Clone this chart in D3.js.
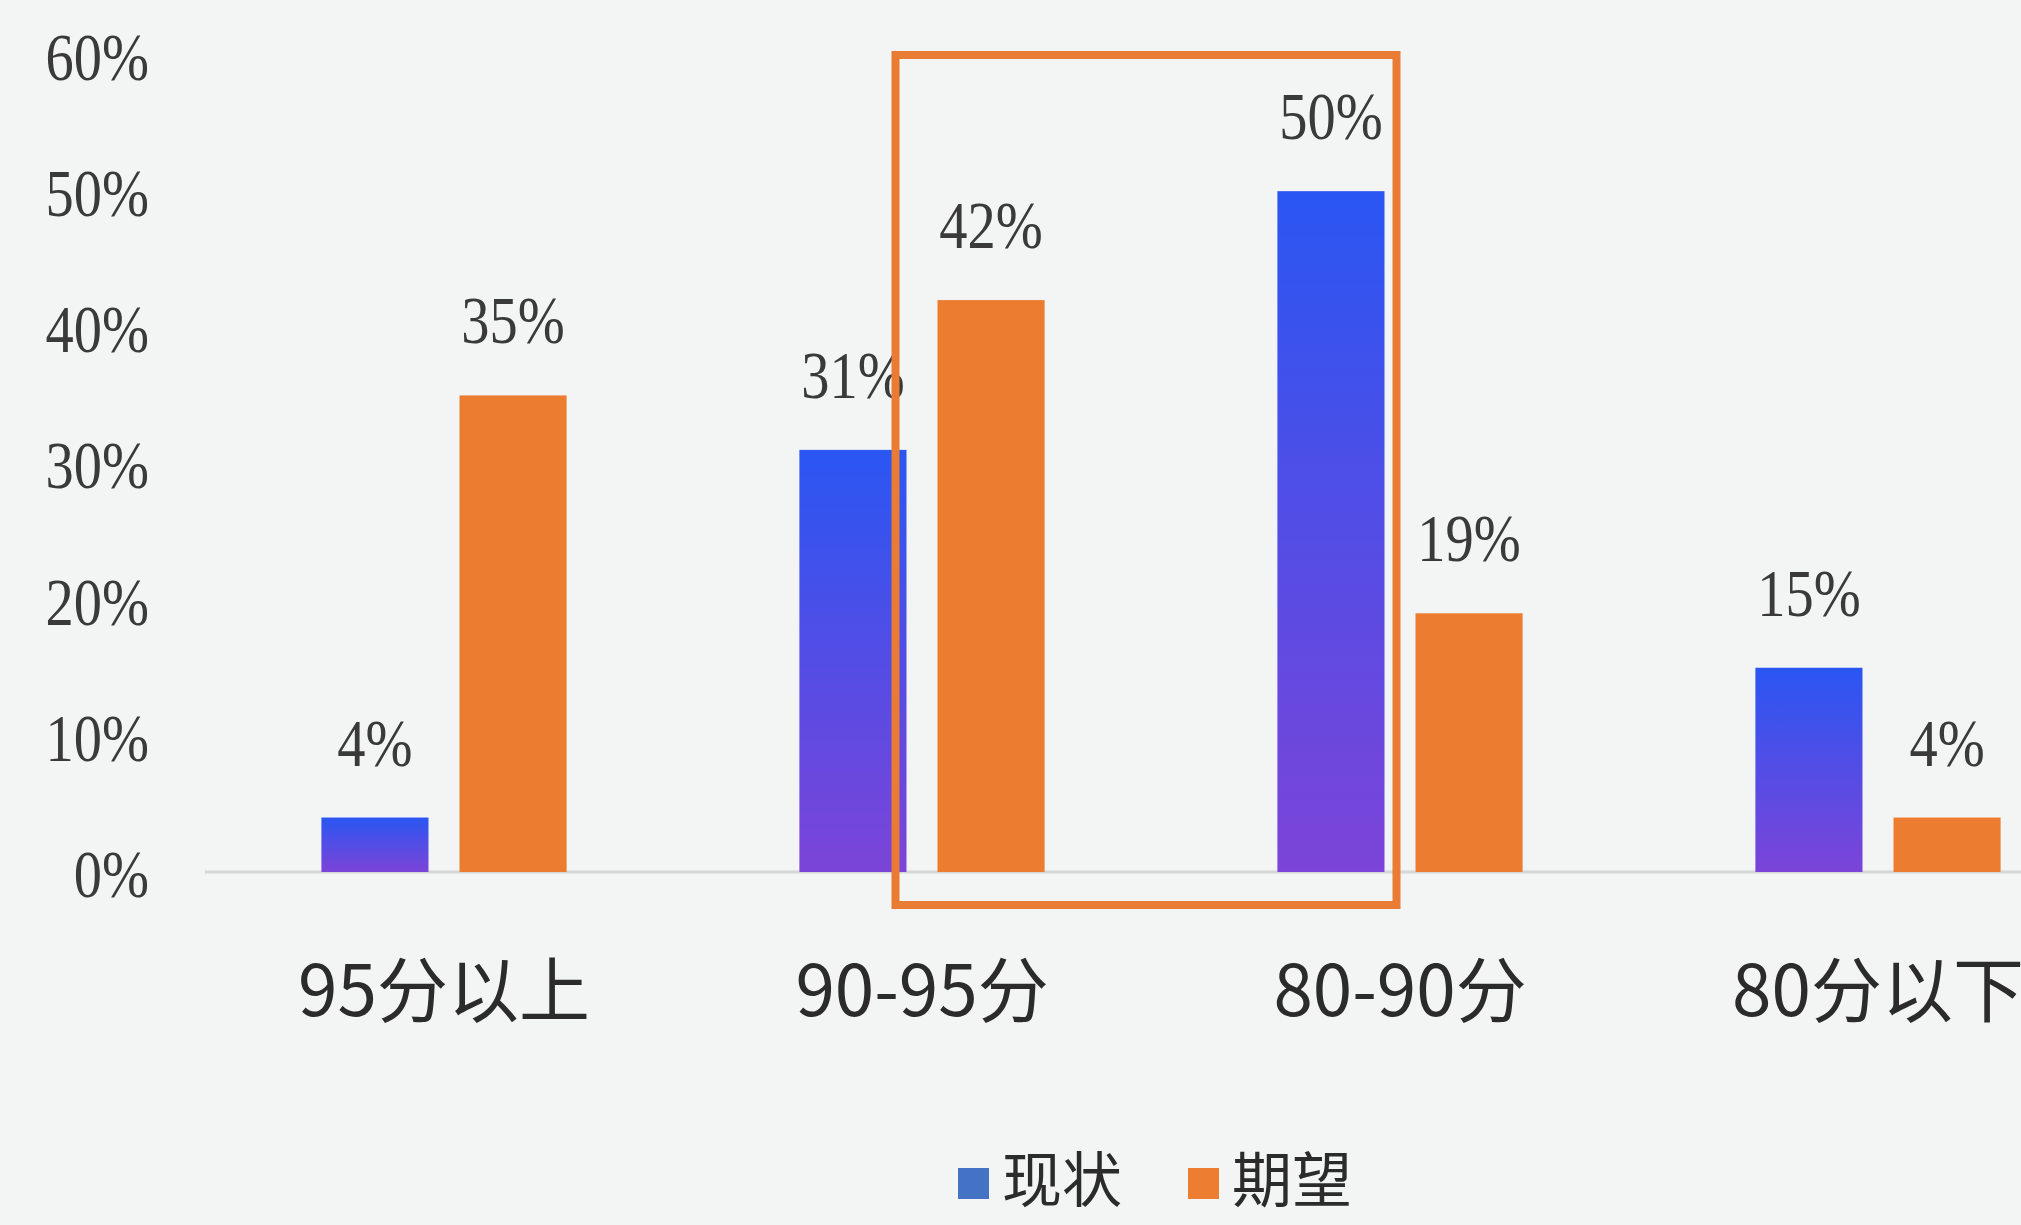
<!DOCTYPE html>
<html>
<head>
<meta charset="utf-8">
<script src="https://cdn.jsdelivr.net/npm/d3@7/dist/d3.min.js"></script>
<style>
body{margin:0;background:#f3f4f4;overflow:hidden}
</style>
</head>
<body>
<div id="chart"></div>
<script>
// data
const categories = ["95分以上", "90-95分", "80-90分", "80分以下"];
const seriesNames = ["现状", "期望"];
const current = [4, 31, 50, 15];
const expected = [35, 42, 19, 4];
const yTicks = [0, 10, 20, 30, 40, 50, 60];
const boxed = ["90-95分", "80-90分"];

function renderChart(){
	let total_width = 2021;
	let total_height = 1225;
	let serif = "'Liberation Serif','DejaVu Serif',serif";
	let sans = "'Noto Sans CJK SC','Noto Sans',sans-serif";
	let squeeze = 0.83;

	let rows = categories.map((c, i) => ({cat: c, values: [
		{key: seriesNames[0], v: current[i]},
		{key: seriesNames[1], v: expected[i]}
	]}));

	let svg = d3.select("#chart").append("svg")
		.attr("width", total_width)
		.attr("height", total_height);

	svg.append("rect")
		.attr("width", total_width)
		.attr("height", total_height)
		.attr("fill", "#f3f4f4");

	let defs = svg.append("defs");
	let grad = defs.append("linearGradient")
		.attr("id", "blueGrad")
		.attr("x1", 0).attr("y1", 0).attr("x2", 0).attr("y2", 1);
	grad.append("stop").attr("offset", "0%").attr("stop-color", "#2a56f2");
	grad.append("stop").attr("offset", "100%").attr("stop-color", "#7c44d8");

	// the plot runs past the right edge, the last group is cut off
	let x0 = d3.scaleBand()
		.domain(categories)
		.range([205, 2117])
		.paddingInner(0.487)
		.paddingOuter(0.2435);
	let x1 = d3.scaleBand()
		.domain(seriesNames)
		.range([0, x0.bandwidth()])
		.paddingInner(0.2246);
	let y = d3.scaleLinear()
		.domain([0, 60])
		.range([872, 55]);

	let fills = {"现状": "url(#blueGrad)", "期望": "#ec7c30"};

	// y axis labels
	let yAxis = svg.append("g")
		.attr("transform", "translate(149,0)")
		.call(d3.axisLeft(y).tickValues(yTicks).tickSize(0).tickPadding(0).tickFormat(d => d + "%"));
	yAxis.select(".domain").remove();
	yAxis.selectAll("text")
		.attr("font-family", serif)
		.attr("font-size", 68)
		.attr("fill", "#3a3a3a")
		.attr("x", 0)
		.attr("dy", "0.36em")
		.attr("transform", "scale(" + squeeze + ",1)");

	// zero line
	svg.append("line")
		.attr("x1", x0.range()[0])
		.attr("x2", x0.range()[1])
		.attr("y1", y(0))
		.attr("y2", y(0))
		.attr("stroke", "#d6d6d6")
		.attr("stroke-width", 3);

	// bars
	let groups = svg.append("g").selectAll("g").data(rows).enter().append("g")
		.attr("transform", d => "translate(" + x0(d.cat) + ",0)");
	groups.selectAll("rect").data(d => d.values).enter().append("rect")
		.attr("x", d => x1(d.key))
		.attr("width", x1.bandwidth())
		.attr("y", d => y(d.v))
		.attr("height", d => y(0) - y(d.v))
		.attr("fill", d => fills[d.key]);

	// value labels
	groups.selectAll("g.lab").data(d => d.values).enter().append("g")
		.attr("class", "lab")
		.attr("transform", d => "translate(" + (x1(d.key) + x1.bandwidth() / 2) + "," + (y(d.v) - 52) + ") scale(" + squeeze + ",1)")
		.append("text")
		.attr("text-anchor", "middle")
		.attr("font-family", serif)
		.attr("font-size", 68)
		.attr("fill", "#3a3a3a")
		.text(d => d.v + "%");

	// category axis
	let xAxis = svg.append("g")
		.attr("transform", "translate(0," + y(0) + ")")
		.call(d3.axisBottom(x0).tickSize(0));
	xAxis.select(".domain").remove();
	xAxis.selectAll("text")
		.attr("font-family", sans)
		.attr("font-size", 71)
		.attr("fill", "#2b2b2b")
		.attr("y", 118)
		.attr("dy", "0.36em");

	// highlight box round the two middle groups
	let boxLeft = x0(boxed[0]) + x1(seriesNames[1]) - 42;
	let boxRight = x0(boxed[1]) + x1(seriesNames[0]) + x1.bandwidth() + 12;
	svg.append("rect")
		.attr("x", boxLeft)
		.attr("y", y(60))
		.attr("width", boxRight - boxLeft)
		.attr("height", y(0) - y(60) + 33)
		.attr("fill", "none")
		.attr("stroke", "#e97b35")
		.attr("stroke-width", 8);

	// legend
	let legendColors = ["#4472c4", "#ed7d31"];
	let legend = svg.append("g").attr("transform", "translate(958,1180)");
	let items = legend.selectAll("g").data(seriesNames).enter().append("g")
		.attr("transform", (d, i) => "translate(" + (i * 230) + ",0)");
	items.append("rect")
		.attr("x", 0)
		.attr("y", -12)
		.attr("width", 31)
		.attr("height", 31)
		.attr("fill", (d, i) => legendColors[i]);
	items.append("text")
		.attr("x", 44)
		.attr("dy", "0.36em")
		.attr("font-family", sans)
		.attr("font-size", 60)
		.attr("fill", "#2b2b2b")
		.text(d => d);
}

renderChart();
</script>
</body>
</html>
